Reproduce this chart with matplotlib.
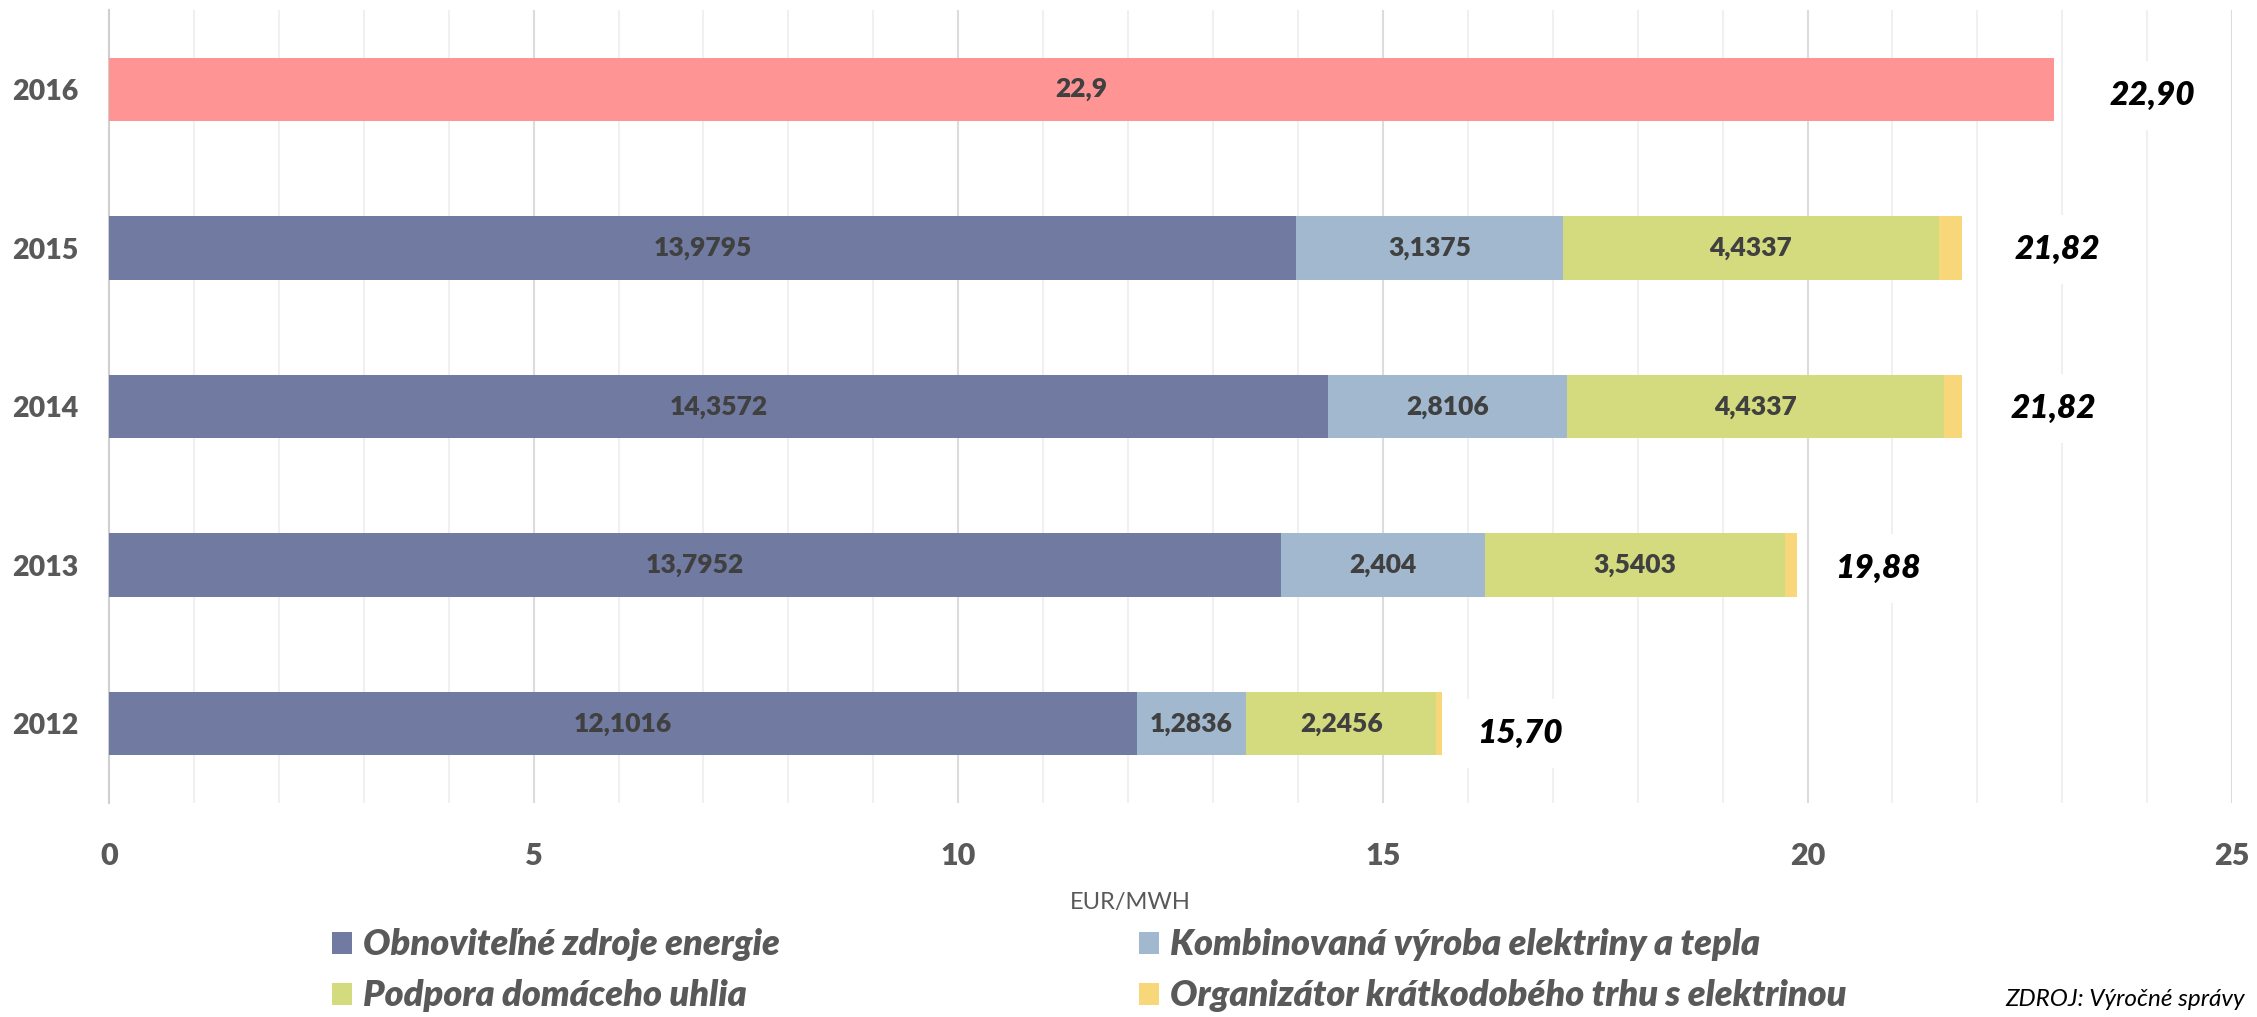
import matplotlib
matplotlib.use('Agg')
import matplotlib.pyplot as plt
import numpy as np
from matplotlib.ticker import MultipleLocator

years = ['2012', '2013', '2014', '2015', '2016']
oze = [12.1016, 13.7952, 14.3572, 13.9795, 0]
kvet = [1.2836, 2.404, 2.8106, 3.1375, 0]
uhlie = [2.2456, 3.5403, 4.4337, 4.4337, 0]
okte = [0.07, 0.14, 0.22, 0.27, 0]
total_2016 = 22.9
totals = ['15,70', '19,88', '21,82', '21,82', '22,90']
total_pos = [16.61, 20.83, 22.89, 22.94, 24.06]

series_names = ['Obnoviteľné zdroje energie', 'Kombinovaná výroba elektriny a tepla',
                'Podpora domáceho uhlia', 'Organizátor krátkodobého trhu s elektrinou']
colors = ['#717AA0', '#A1B8CF', '#D4DA7E', '#F8D77A']
c2016 = '#FF9494'
gray = '#595959'

plt.rcParams['font.family'] = ['Lato', 'DejaVu Sans']

fig = plt.figure(figsize=(22.57, 10.17), dpi=100)
ax = fig.add_axes([0.0483, 0.2104, 0.9407, 0.7796])

y = np.arange(len(years))
h = 0.40
left = np.zeros(len(years))
handles = []
for vals, col, name in zip([oze, kvet, uhlie, okte], colors, series_names):
    vals = np.array(vals)
    b = ax.barh(y, vals, left=left, height=h, color=col, label=name, zorder=3)
    handles.append(b)
    if col != colors[3]:
        for yi, (l, v) in enumerate(zip(left, vals)):
            if v > 0:
                ax.text(l + v / 2, yi, f'{v:g}'.replace('.', ','), ha='center', va='center',
                        fontsize=19, fontweight='heavy', color='#404040', zorder=4)
    left += vals

ax.barh(4, total_2016, height=h, color=c2016, zorder=3)
ax.text(total_2016 / 2, 4, f'{total_2016:g}'.replace('.', ','), ha='center', va='center',
        fontsize=19, fontweight='heavy', color='#404040', zorder=4)

offs = [-0.06, -0.02, -0.01, -0.01, -0.04]
for yi, (t, xp) in enumerate(zip(totals, total_pos)):
    ax.text(xp, yi + offs[yi], t, ha='center', va='center', fontsize=24,
            fontweight='heavy', fontstyle='italic', color='black', zorder=5,
            bbox=dict(boxstyle='square,pad=0.6', facecolor='white', edgecolor='none'))

ax.set_xlim(0, 25)
ax.set_ylim(-0.5, 4.5)
ax.set_yticks(y)
ax.set_yticklabels(years)
ax.xaxis.set_major_locator(MultipleLocator(5))
ax.xaxis.set_minor_locator(MultipleLocator(1))
ax.grid(axis='x', which='minor', color='#F0F0F0', linewidth=1.5, zorder=0)
ax.grid(axis='x', which='major', color='#DCDCDC', linewidth=1.5, zorder=0)
for s in ['top', 'right', 'bottom']:
    ax.spines[s].set_visible(False)
ax.spines['left'].set_color('#D0D0D0')
ax.spines['left'].set_linewidth(1.5)
ax.tick_params(axis='both', which='both', length=0)
ax.tick_params(axis='y', pad=22, labelsize=20.5, labelcolor=gray)
ax.tick_params(axis='x', pad=28, labelsize=22, labelcolor=gray)
for lab in ax.get_xticklabels() + ax.get_yticklabels():
    lab.set_fontweight('heavy')

fig.text(1130 / 2257, 1 - 903 / 1017, 'EUR/MWH', ha='center', va='center',
         fontsize=17, color=gray)

order = [0, 2, 1, 3]
leg = fig.legend([handles[i] for i in order], [series_names[i] for i in order],
                 ncol=2, loc='upper left', bbox_to_anchor=(318 / 2257, 1 - 914 / 1017),
                 frameon=False, handlelength=0.55, handleheight=0.55, handletextpad=0.3,
                 columnspacing=9.95, labelspacing=0.5, borderaxespad=0,
                 prop=dict(size=26, weight='heavy', style='italic'))
for t in leg.get_texts():
    t.set_color(gray)

fig.text(2005 / 2257, 1 - 1000 / 1017, 'ZDROJ: Výročné správy', ha='left', va='center',
         fontsize=17.5, fontstyle='italic', color='black')

plt.savefig('out.png', dpi=100)
plt.close()
